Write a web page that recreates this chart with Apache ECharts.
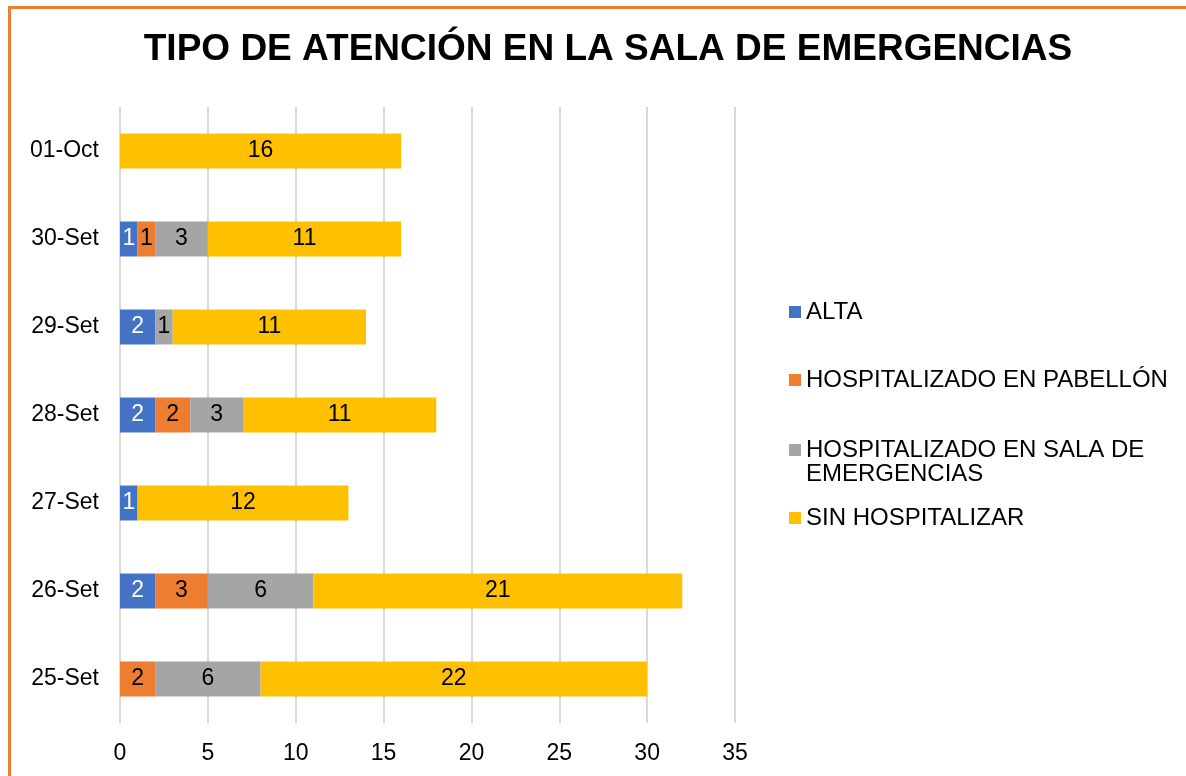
<!DOCTYPE html>
<html>
<head>
<meta charset="utf-8">
<script src="https://cdn.jsdelivr.net/npm/echarts@6/dist/echarts.min.js"></script>
<style>
  html, body { margin: 0; padding: 0; background: #fff; }
  #frame {
    position: absolute; left: 8px; top: 6px; width: 1190px; height: 780px;
    border-top: 3px solid #ED7D31; border-left: 3px solid #ED7D31;
  }
  #chart { position: absolute; left: 0; top: 0; width: 1186px; height: 776px; }
</style>
</head>
<body>
<div id="frame"></div>
<div id="chart"></div>
<script>
// dates, bottom to top
let days = ["25-Set", "26-Set", "27-Set", "28-Set", "29-Set", "30-Set", "01-Oct"];

let alta = [0, 2, 1, 2, 2, 1, 0];
let pabellon = [2, 3, 0, 2, 0, 1, 0];
let salaEmergencias = [6, 6, 0, 3, 1, 3, 0];
let sinHospitalizar = [22, 21, 12, 11, 11, 11, 16];

let xTicks = [0, 5, 10, 15, 20, 25, 30, 35];

let names = ["ALTA", "HOSPITALIZADO EN PABELLÓN", "HOSPITALIZADO EN SALA DE EMERGENCIAS", "SIN HOSPITALIZAR"];
let colors = ["#4472C4", "#ED7D31", "#A5A5A5", "#FFC000"];
let values = [alta, pabellon, salaEmergencias, sinHospitalizar];

let font = "Liberation Sans, Arial, sans-serif";

let chartDom = document.getElementById("chart");
let chart = echarts.init(chartDom);

function makeSeries(i) {
    return {
        name: names[i],
        type: "bar",
        stack: "total",
        barWidth: 35,
        data: values[i],
        itemStyle: { color: colors[i] },
        label: {
            show: true,
            position: "inside",
            fontFamily: font,
            fontSize: 23,
            color: i === 0 ? "#fff" : "#000",
            formatter: p => p.value === 0 ? "" : p.value
        },
        emphasis: { disabled: true }
    };
}

// one legend per entry so they sit where the picture has them
// (the long one gets an empty first line so the square lines up with its first row)
let legendTops = [300, 368, 414, 506];
let legends = names.map((n, i) => ({
    data: [n],
    left: 789,
    top: legendTops[i],
    padding: 0,
    orient: "vertical",
    itemWidth: 12,
    itemHeight: 12,
    itemGap: 0,
    icon: "rect",
    selectedMode: false,
    formatter: name => name === "HOSPITALIZADO EN SALA DE EMERGENCIAS" ? " \nHOSPITALIZADO EN SALA DE\nEMERGENCIAS" : name,
    textStyle: {
        fontFamily: font,
        fontSize: 24,
        color: "#000",
        lineHeight: 24,
        padding: [0, 0, 0, 0]
    }
}));

let option = {
    animation: false,
    title: {
        text: "TIPO DE ATENCIÓN EN LA SALA DE EMERGENCIAS",
        left: 603,
        top: 26,
        textAlign: "center",
        textStyle: { fontFamily: font, fontSize: 37, fontWeight: "bold", color: "#000" }
    },
    legend: legends,
    grid: { left: 120, right: 451, top: 107, bottom: 53, containLabel: false },
    xAxis: {
        type: "value",
        min: xTicks[0],
        max: xTicks[xTicks.length - 1],
        interval: 5,
        axisLine: { show: false },
        axisTick: { show: false },
        axisLabel: { fontFamily: font, fontSize: 23, color: "#000", margin: 19 },
        splitLine: { lineStyle: { color: "#D9D9D9", width: 2 } }
    },
    yAxis: {
        type: "category",
        data: days,
        axisLine: { show: false },
        axisTick: { show: false },
        axisLabel: { fontFamily: font, fontSize: 23, color: "#000", margin: 21 }
    },
    series: names.map((n, i) => makeSeries(i))
};

chart.setOption(option);
</script>
</body>
</html>
